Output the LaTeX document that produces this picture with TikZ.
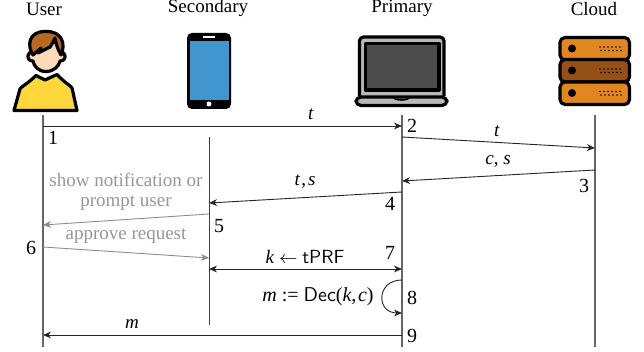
\documentclass[tikz,border=0pt]{standalone}
\usepackage{fontspec}
\setmainfont{Liberation Serif}
\usetikzlibrary{arrows.meta}
\definecolor{grayt}{RGB}{150,150,150}
\definecolor{orangeA}{RGB}{226,135,32}
\definecolor{brownA}{RGB}{150,80,20}
\definecolor{hairc}{RGB}{184,105,32}
\definecolor{skin}{RGB}{255,218,185}
\definecolor{shirt}{RGB}{255,214,60}
\definecolor{phoneb}{RGB}{66,150,208}
\tikzset{
 tipa/.tip={Stealth[length=4pt,width=3.4pt,inset=1.2pt]},
 life/.style={draw=black!60,line width=0.65pt},
 msg/.style={draw=black!85,line width=0.45pt,-tipa},
 msgg/.style={draw=black!45,line width=0.45pt,-tipa},
 lbl/.style={inner sep=0pt,font=\fontsize{9.5}{11}\selectfont},
 num/.style={inner sep=0pt,font=\fontsize{10}{11}\selectfont},
 gl/.style={lbl,text=grayt},
 icon/.style={draw=black,line width=1.6pt,line join=round},
}
\begin{document}
\begin{tikzpicture}[x=0.5pt,y=-0.5pt]
\useasboundingbox (0,0) rectangle (644,352);
% titles
\node[lbl] (tu) at (44,9) {User};
\node[lbl] (ts) at (208,8) {Secondary};
\node[lbl] (tp) at (402,8) {Primary};
\node[lbl] (tc) at (594,9) {Cloud};
% user icon
\draw[icon,fill=shirt] (14,110.5) -- (20,89) .. controls (22,86) and (26,85) .. (36,75.5) -- (45,80) -- (57,74.5) .. controls (66,84) and (70,85) .. (72,88) -- (77,110.5) -- cycle;
\draw[icon,fill=skin] (46,71.5) .. controls (38,71.5) and (34,66) .. (33,61) .. controls (26,61) and (26,52) .. (33,52) -- (33,42) -- (60,42) -- (60,52) .. controls (67,52) and (67,61) .. (60,61) .. controls (59,66) and (54,71.5) .. (46,71.5) -- cycle;
\draw[icon,fill=hairc] (33,55) .. controls (27,46) and (28,31) .. (46,31.5) .. controls (62,31) and (66,44) .. (61,55) .. controls (58,50) and (56,44) .. (55,38) .. controls (53,42) and (51,46) .. (50,47) -- (38,53) -- (41,48) -- cycle;
% phone
\node[draw=none,fill=black,rounded corners=2.5pt,minimum width=22pt,minimum height=38pt,inner sep=0pt] (phone) at (209,71) {};
\fill[phoneb] (189.5,41) rectangle (228.5,100);
\fill[white] (203,36) rectangle (215,38.5);
\fill[white] (209,104) circle (2.5);
% laptop
\draw[icon,fill=black!28,rounded corners=2pt] (359.5,96) -- (359.5,37) -- (444,37) -- (444,96);
\draw[icon,fill=black!70] (365.5,43.5) rectangle (439,90);
\draw[icon,fill=black!28,rounded corners=2.5pt] (356,97) rectangle (447,105.5);
\draw[black,line width=0.8pt] (393,97) .. controls (395,101) and (408,101) .. (410,97);
% server
\foreach \yy/\cc in {37.5/orangeA,59.5/brownA,82/orangeA}{
 \draw[icon,fill=\cc,rounded corners=2.5pt] (560,\yy) rectangle (629.5,\yy+22.5);
 \fill[black] (572,\yy+11) circle (4);
 \foreach \xx in {600,604,608,612,616,620}{
  \fill[black] (\xx,\yy+9.5) circle (0.8);
  \fill[black] (\xx+1,\yy+13) circle (0.8);
 }
}
% lifelines
\coordinate (u0) at (43,115); \coordinate (u1) at (43,347);
\coordinate (s0) at (209,137); \coordinate (s1) at (209,325);
\coordinate (p0) at (402,115); \coordinate (p1) at (402,347);
\coordinate (c0) at (595,115); \coordinate (c1) at (595,347);
\draw[life] (u0) -- (u1);
\draw[draw=black!75,line width=0.45pt] (s0) -- (s1);
\draw[life] (p0) -- (p1);
\draw[life] (c0) -- (c1);
% messages
\coordinate (a1) at (43,126); \coordinate (a2) at (402,126);
\coordinate (b1) at (402,137); \coordinate (b2) at (595,148);
\coordinate (c2a) at (595,170); \coordinate (c2b) at (402,181);
\coordinate (d1) at (402,192); \coordinate (d2) at (209,203);
\coordinate (e1) at (209,214); \coordinate (e2) at (43,225);
\coordinate (f1) at (43,247); \coordinate (f2) at (209,258);
\coordinate (g1) at (209,269); \coordinate (g2) at (402,269);
\coordinate (h1) at (402,280); \coordinate (h2) at (402,313);
\coordinate (i1) at (402,335); \coordinate (i2) at (43,335);
\draw[msg] (a1) -- (a2);
\draw[msg] (b1) -- (b2);
\draw[msg] (c2a) -- (c2b);
\draw[msg] (d1) -- (d2);
\draw[msgg] (e1) -- (e2);
\draw[msgg] (f1) -- (f2);
\draw[msg,tipa-tipa] (g1) -- (g2);
\draw[msg] (h1) .. controls (376,280) and (376,313) .. (h2);
\draw[msg] (i1) -- (i2);
% step numbers
\node[num] (n1) at (53,138) {1};
\node[num] (n2) at (412,126) {2};
\node[num] (n3) at (584,186) {3};
\node[num] (n4) at (390,204) {4};
\node[num] (n5) at (219,226) {5};
\node[num] (n6) at (31,248) {6};
\node[num] (n7) at (390,253) {7};
\node[num] (n8) at (412,298) {8};
\node[num] (n9) at (412,336) {9};
% labels
\node[lbl] (l1) at (311,114) {\textit{t}};
\node[lbl] (l2) at (497,131) {\textit{t}};
\node[lbl] (l3) at (498,161) {\textit{c}, \textit{s}};
\node[lbl] (l4) at (305,182) {\textit{t}\kern0.5pt,\kern1pt\textit{s}};
\node[gl] (g1t) at (126,180) {show notification or};
\node[gl] (g2t) at (126,203) {prompt user};
\node[gl] (g3t) at (126,236) {approve request};
\node[lbl] (l5) at (305,257) {\textit{k} $\leftarrow$ \textsf{tPRF}};
\node[lbl,font=\fontsize{10}{11}\selectfont] (l6) at (318,297) {\textit{m} := \textsf{Dec}(\textit{k},\kern0.8pt\textit{c})};
\node[lbl] (l7) at (132,324) {\textit{m}};
\end{tikzpicture}
\end{document}
